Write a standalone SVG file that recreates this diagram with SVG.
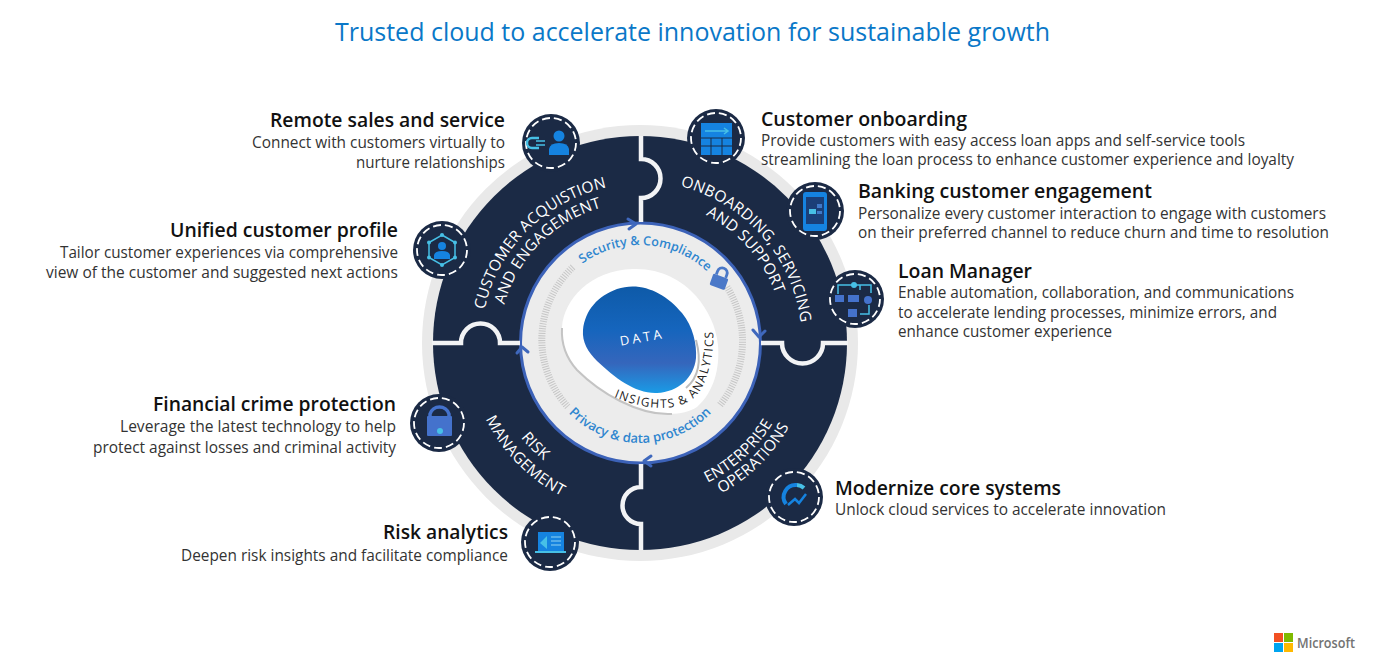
<svg xmlns="http://www.w3.org/2000/svg" width="1378" height="661" viewBox="0 0 1378 661">
<style>
text{font-family:"Open Sans","Noto Sans","Liberation Sans",sans-serif}
.h{font-size:19.5px;font-weight:600;fill:#111}
.d{font-size:15.5px;fill:#333}
.e{text-anchor:end}
.r{font-size:15.5px;font-weight:500;fill:#fff;text-anchor:middle;letter-spacing:.2px}
.b{font-size:12.5px;fill:#2f86cf;font-weight:600;text-anchor:middle}
.gap{fill:none;stroke:#f2f3f5;stroke-width:4.5}
.tick{fill:none;stroke:#c6c6c6;stroke-width:7;stroke-dasharray:1 1.4}
.chev{fill:none;stroke:#3f68bd;stroke-width:3;stroke-linecap:round;stroke-linejoin:round}
.badge{fill:#1b2a45}
.dash{fill:none;stroke:#fff;stroke-width:1.800;stroke-dasharray:8 4}
.i1{fill:#1583e0}.i2{fill:#47c0e6}.i3{fill:#4472cc}
.l1{fill:none;stroke:#47c0e6;stroke-width:1.500}
</style>
<defs>
<linearGradient id="dg" x1="0" y1="0" x2="0" y2="1"><stop offset="0" stop-color="#0e5aa8"/><stop offset=".4" stop-color="#1565bd"/><stop offset=".72" stop-color="#3566bc"/><stop offset="1" stop-color="#1a9be6"/></linearGradient>
<path id="c1" d="M481,343A159,159 0 0 1 640,184"/>
<path id="c2" d="M499,343A141,141 0 0 1 640,202"/>
<path id="o1" d="M640,181A162,162 0 0 1 802,343"/>
<path id="o2" d="M640,199A144,144 0 0 1 784,343"/>
<path id="m1" d="M468,343A172,172 0 0 0 640,515"/>
<path id="m2" d="M488,343A152,152 0 0 0 640,495"/>
<path id="e1" d="M640,498A155,155 0 0 0 795,343"/>
<path id="e2" d="M640,514A171,171 0 0 0 811,343"/>
<path id="secp" d="M542,343A98,98 0 0 1 738,343"/>
<path id="prip" d="M540,343A100,100 0 0 0 740,343"/>
<path id="insp" d="M614,397C650,412 692,416 705,381C713,360 714,345 713,322"/>
</defs>

<g id="wheel">
<circle cx="640" cy="343" r="218" fill="#e9e9e9"/>
<circle cx="640" cy="343" r="207" fill="#1b2a45"/>
<circle cx="640.500" cy="343" r="120" fill="#ececec" stroke="#3c62b8" stroke-width="3"/>
</g>

<g id="connectors">
<path class="gap" d="M641,136V159A19.500,19.500 0 0 1 641,198V222"/>
<path class="gap" d="M761,343H782A20.500,20.500 0 0 0 823,343H848"/>
<path class="gap" d="M641,464V487A18.500,18.500 0 0 0 641,524V550"/>
<path class="gap" d="M432,343H461A19.500,19.500 0 0 1 500,343H520"/>
<path class="chev" d="M628,219L636,224L629,229"/>
<path class="chev" d="M753,330L759,337L765,331"/>
<path class="chev" d="M651,456L644,461L651,466"/>
<path class="chev" d="M517,353L522,347L528,352"/>
<path class="tick" d="M573,267A100,100 0 0 0 568,407"/>
<path class="tick" d="M727,287A102,102 0 0 1 720,405"/>
</g>

<g id="center">
<path d="M633,269C660,268 682,280 696,296C708,310 716,326 718,345C720,368 714,392 697,407C680,418 650,416 620,401C600,391 588,381 577,370C566,358 560,342 562,327C564,300 590,270 633,269Z" fill="#fff"/>
<path d="M562,328C561,345 568,360 577,370C588,381 600,391 620,401C640,411 655,415 672,414" fill="none" stroke="#c4c4c4" stroke-width="2"/>
<path d="M696,340C702,362 698,378 686,388" fill="none" stroke="#bdbdbd" stroke-width="2"/>
<path id="blob" d="M583,330C585,310 598,296 617,289C640,281 665,292 682,313C693,326 697,345 696,358C694,378 678,392 657,393C636,394 615,378 597,361C588,352 582,342 583,330Z" fill="url(#dg)"/>
<text x="642" y="342" transform="rotate(-10 642 337)" font-size="13" fill="#fff" text-anchor="middle" letter-spacing="3">DATA</text>
<text font-size="12" fill="#222" letter-spacing="1.300"><textPath href="#insp">INSIGHTS &amp; ANALYTICS</textPath></text>
<text class="b"><textPath href="#secp" startOffset="52%">Security &amp; Compliance</textPath></text>
<text class="b" style="font-size:13px"><textPath href="#prip" startOffset="50%">Privacy &amp; data protection</textPath></text>
<g transform="translate(720 279) rotate(20)"><path d="M-5,-3V-6.500A5,5 0 0 1 5,-6.500V-3" fill="none" stroke="#4a78c8" stroke-width="2.800"/><rect x="-8" y="-3" width="16" height="12" rx="1.500" fill="#4a78c8"/></g>
</g>

<g id="segment-labels">
<text class="r"><textPath href="#c1" startOffset="50%">CUSTOMER ACQUISTION</textPath></text>
<text class="r"><textPath href="#c2" startOffset="50%">AND ENGAGEMENT</textPath></text>
<text class="r"><textPath href="#o1" startOffset="54%">ONBOARDING, SERVICING</textPath></text>
<text class="r"><textPath href="#o2" startOffset="54%">AND SUPPORT</textPath></text>
<text class="r"><textPath href="#m1" startOffset="49.500%">MANAGEMENT</textPath></text>
<text class="r"><textPath href="#m2" startOffset="49.500%">RISK</textPath></text>
<text class="r"><textPath href="#e1" startOffset="47%">ENTERPRISE</textPath></text>
<text class="r"><textPath href="#e2" startOffset="49.500%">OPERATIONS</textPath></text>
</g>

<g id="title"><text x="335" y="41" font-size="26" fill="#0a78c8" textLength="715" lengthAdjust="spacingAndGlyphs">Trusted cloud to accelerate innovation for sustainable growth</text></g>

<g id="remote-sales">
<circle class="badge" cx="551" cy="143" r="29"/><circle class="dash" cx="551" cy="143" r="25"/>
<path d="M539,138H532A5,5 0 0 0 532,148H539" fill="none" stroke="#47c0e6" stroke-width="2.500"/><path d="M536,141h9M536,145h9" stroke="#47c0e6" stroke-width="1.500"/>
<circle class="i1" cx="559" cy="136" r="5.500"/><path class="i1" d="M549,155V149Q550,143 559,143Q568,143 569,149V155Z"/>
<text class="h e" x="505" y="127" textLength="235" lengthAdjust="spacingAndGlyphs">Remote sales and service</text>
<text class="d e" x="505" y="148" textLength="253" lengthAdjust="spacingAndGlyphs">Connect with customers virtually to</text>
<text class="d e" x="505" y="168" textLength="149" lengthAdjust="spacingAndGlyphs">nurture relationships</text>
</g>

<g id="unified-profile">
<circle class="badge" cx="442" cy="250" r="29"/><circle class="dash" cx="442" cy="250" r="25"/>
<path class="l1" d="M442,235L455,242.500V257.500L442,265L429,257.500V242.500Z"/>
<circle class="i2" cx="442" cy="235" r="2"/><circle class="i2" cx="455" cy="242.500" r="2"/><circle class="i2" cx="455" cy="257.500" r="2"/><circle class="i2" cx="442" cy="265" r="2"/><circle class="i2" cx="429" cy="257.500" r="2"/><circle class="i2" cx="429" cy="242.500" r="2"/>
<circle class="i1" cx="442" cy="246" r="4"/><path class="i1" d="M434,259V255Q435,251 442,251Q449,251 450,255V259Z"/>
<text class="h e" x="398" y="237" textLength="228" lengthAdjust="spacingAndGlyphs">Unified customer profile</text>
<text class="d e" x="398" y="258" textLength="338" lengthAdjust="spacingAndGlyphs">Tailor customer experiences via comprehensive</text>
<text class="d e" x="398" y="278" textLength="352" lengthAdjust="spacingAndGlyphs">view of the customer and suggested next actions</text>
</g>

<g id="customer-onboarding">
<circle class="badge" cx="716" cy="138" r="29"/><circle class="dash" cx="716" cy="138" r="25"/>
<path class="i1" d="M701,123H732V155H701Z"/>
<path d="M705,131H728M724,128L728,131L724,134" fill="none" stroke="#47c0e6" stroke-width="1.500"/>
<path d="M701,138H732M701,146H732M711,138V155M722,138V155" stroke="#1b2a45" stroke-width="1"/>
<text class="h" x="761" y="126" textLength="206" lengthAdjust="spacingAndGlyphs">Customer onboarding</text>
<text class="d" x="761" y="146" textLength="484" lengthAdjust="spacingAndGlyphs">Provide customers with easy access loan apps and self-service tools</text>
<text class="d" x="761" y="165" textLength="533" lengthAdjust="spacingAndGlyphs">streamlining the loan process to enhance customer experience and loyalty</text>
</g>

<g id="banking-engagement">
<circle class="badge" cx="815" cy="211" r="29"/><circle class="dash" cx="815" cy="211" r="25"/>
<rect x="803" y="192" width="24" height="39" rx="3" class="i1"/><rect x="806" y="197" width="18" height="27" fill="#1b3f78"/>
<rect x="809" y="209" width="7" height="5" class="i2"/><rect x="817" y="204" width="5" height="4" fill="#3f79c8"/><rect x="817" y="211" width="5" height="3" fill="#3f79c8"/>
<text class="h" x="858" y="198" textLength="294" lengthAdjust="spacingAndGlyphs">Banking customer engagement</text>
<text class="d" x="858" y="219" textLength="468" lengthAdjust="spacingAndGlyphs">Personalize every customer interaction to engage with customers</text>
<text class="d" x="858" y="238" textLength="471" lengthAdjust="spacingAndGlyphs">on their preferred channel to reduce churn and time to resolution</text>
</g>

<g id="loan-manager">
<circle class="badge" cx="855" cy="299" r="29"/><circle class="dash" cx="855" cy="299" r="25"/>
<path class="l1" d="M838,294V285H860M860,285V290M848,285H871V293"/>
<circle class="i2" cx="854" cy="285" r="3"/>
<rect class="i3" x="835" y="295" width="9" height="7"/><rect class="i3" x="848" y="295" width="11" height="7"/><circle class="i3" cx="868" cy="300" r="4"/><rect class="i3" x="848" y="309" width="9" height="8"/>
<path class="l1" d="M860,314H869V305"/>
<text class="h" x="898" y="278" textLength="134" lengthAdjust="spacingAndGlyphs">Loan Manager</text>
<text class="d" x="898" y="298" textLength="396" lengthAdjust="spacingAndGlyphs">Enable automation, collaboration, and communications</text>
<text class="d" x="898" y="318" textLength="379" lengthAdjust="spacingAndGlyphs">to accelerate lending processes, minimize errors, and</text>
<text class="d" x="898" y="337" textLength="214" lengthAdjust="spacingAndGlyphs">enhance customer experience</text>
</g>

<g id="financial-crime">
<circle class="badge" cx="439" cy="423" r="29"/><circle class="dash" cx="439" cy="423" r="25"/>
<path d="M430,417V414A10,10 0 0 1 449,414V417" fill="none" stroke="#4472cc" stroke-width="3.500"/>
<rect class="i3" x="427" y="416" width="25" height="20" rx="1"/><circle class="i2" cx="440" cy="431" r="3"/>
<text class="h e" x="396" y="411" textLength="243" lengthAdjust="spacingAndGlyphs">Financial crime protection</text>
<text class="d e" x="396" y="432" textLength="276" lengthAdjust="spacingAndGlyphs">Leverage the latest technology to help</text>
<text class="d e" x="396" y="453" textLength="303" lengthAdjust="spacingAndGlyphs">protect against losses and criminal activity</text>
</g>

<g id="risk-analytics">
<circle class="badge" cx="550" cy="542" r="29"/><circle class="dash" cx="550" cy="542" r="25"/>
<rect class="i1" x="538" y="532" width="26" height="19"/><path d="M535,552H566" stroke="#47c0e6" stroke-width="2"/>
<path d="M540,543L547,536V549Z" fill="#47c0e6"/><path d="M551,537h10M551,541h10M551,545h10" stroke="#8fd4f2" stroke-width="1.200"/>
<text class="h e" x="508" y="539" textLength="125" lengthAdjust="spacingAndGlyphs">Risk analytics</text>
<text class="d e" x="508" y="561" textLength="327" lengthAdjust="spacingAndGlyphs">Deepen risk insights and facilitate compliance</text>
</g>

<g id="modernize">
<circle class="badge" cx="794" cy="497" r="29"/><circle class="dash" cx="794" cy="497" r="25"/>
<path d="M786,504A12,12 0 0 1 797,485" fill="none" stroke="#1583e0" stroke-width="4"/><path d="M797,485A12,12 0 0 1 804,488" fill="none" stroke="#47c0e6" stroke-width="4"/>
<path d="M788,505L795,499L799,503L806,494" fill="none" stroke="#1583e0" stroke-width="2.500"/>
<text class="h" x="835" y="495" textLength="226" lengthAdjust="spacingAndGlyphs">Modernize core systems</text>
<text class="d" x="835" y="515" textLength="331" lengthAdjust="spacingAndGlyphs">Unlock cloud services to accelerate innovation</text>
</g>

<g id="microsoft-logo">
<rect x="1274" y="633" width="9" height="9" fill="#f25022"/><rect x="1284" y="633" width="9" height="9" fill="#7fba00"/><rect x="1274" y="643" width="9" height="9" fill="#00a4ef"/><rect x="1284" y="643" width="9" height="9" fill="#ffb900"/>
<text x="1297" y="648" font-size="14.500" font-weight="600" fill="#737373" textLength="58" lengthAdjust="spacingAndGlyphs">Microsoft</text>
</g>
</svg>
